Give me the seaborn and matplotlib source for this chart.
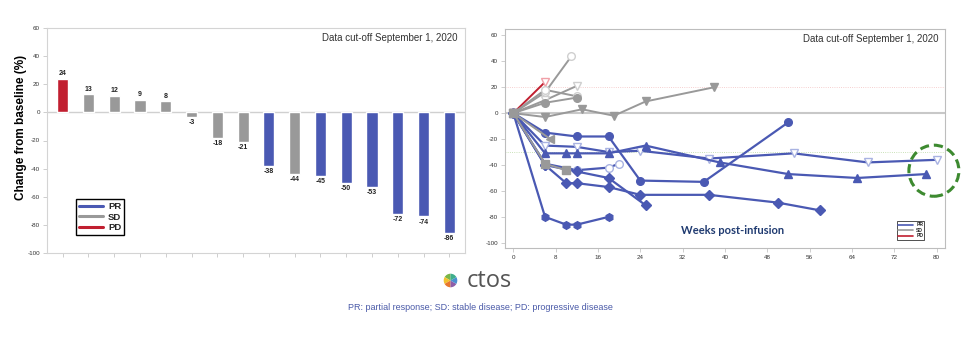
import numpy as np
import pandas as pd
import matplotlib
matplotlib.use("Agg")
import matplotlib.pyplot as plt
import seaborn as sns
from matplotlib.lines import Line2D
from matplotlib.patches import Ellipse

sns.set_style("white")
plt.rcParams['font.family'] = ['Liberation Sans', 'DejaVu Sans']
plt.rcParams['axes.unicode_minus'] = False

# --- waterfall: best % change from baseline ---
best_change = [24, 13, 12, 9, 8, -3, -18, -21, -38, -44, -45, -50, -53, -72, -74, -86]
best_response = ['PD', 'SD', 'SD', 'SD', 'SD', 'SD', 'SD', 'SD',
                 'PR', 'SD', 'PR', 'PR', 'PR', 'PR', 'PR', 'PR']

# --- spider: % change over weeks post-infusion, one list per patient ---
spider_weeks = [
    [0, 6],                                   # PD
    [0, 6, 11],                               # SD
    [0, 6, 12],
    [0, 6, 12],
    [0, 6, 12],
    [0, 6, 13, 19, 25, 38],
    [0, 7],
    [0, 6, 10],
    [0, 6, 12, 18, 24, 36, 52],               # PR
    [0, 6, 12, 18, 24, 37, 53, 67, 80],
    [0, 6, 10, 12, 18, 25, 39, 52, 65, 78],
    [0, 6, 12, 18, 20],
    [0, 6, 10, 12, 18, 24, 37, 50, 58],
    [0, 6, 12, 18, 25],
    [0, 6, 10, 12, 18],
]
spider_values = [
    [0, 24],
    [0, 16, 44],
    [0, 18, 13],
    [0, 10, 21],
    [0, 8, 12],
    [0, -3, 3, -2, 9, 20],
    [0, -20],
    [0, -39, -44],
    [0, -15, -18, -18, -52, -53, -7],
    [0, -25, -26, -30, -29, -35, -31, -38, -36],
    [0, -31, -31, -31, -31, -25, -38, -47, -50, -47],
    [0, -39, -44, -42, -39],
    [0, -40, -54, -54, -57, -63, -63, -69, -75],
    [0, -40, -45, -50, -71],
    [0, -80, -86, -86, -80],
]
spider_response = ['PD', 'SD', 'SD', 'SD', 'SD', 'SD', 'SD', 'SD',
                   'PR', 'PR', 'PR', 'PR', 'PR', 'PR', 'PR']

# styles
spider_marker = ['v', 'o', 'o', 'v', 'o', 'v', '<', 's',
                 'o', 'v', '^', 'o', 'D', 'D', 'h']
spider_open = [True, True, True, True, False, False, False, False,
               False, True, False, True, False, False, False]
response_colors = {'PR': '#4a59b3', 'SD': '#999999', 'PD': '#c11f30'}
open_edge = {'PR': '#a9b3e2', 'SD': '#cfcfcf', 'PD': '#f0a0a8'}

W, H = 971, 353
fig = plt.figure(figsize=(W / 100, H / 100), dpi=100)


def px_axes(x0, y0, x1, y1):
    return fig.add_axes([x0 / W, 1 - y1 / H, (x1 - x0) / W, (y1 - y0) / H])


# ---------------- left: waterfall ----------------
ax1 = px_axes(47, 28, 465, 253)
df = pd.DataFrame({'patient': range(len(best_change)),
                   'change': best_change,
                   'response': best_response})
sns.barplot(data=df, x='patient', y='change', hue='response',
            palette=response_colors, dodge=False, width=0.43,
            legend=False, ax=ax1, saturation=1)
ax1.axhline(0, color='#d0d0d0', lw=1, zorder=0)
for i, v in enumerate(best_change):
    if v >= 0:
        ax1.text(i, v + 1, str(v), ha='center', va='bottom', fontsize=5,
                 fontweight='bold', color='#222')
    else:
        ax1.text(i, v - 1.5, str(v), ha='center', va='top', fontsize=5,
                 fontweight='bold', color='#222')
ax1.set_xlim(-0.61, 15.61)
ax1.set_ylim(-100, 60)
ax1.set_yticks(np.arange(-100, 61, 20))
ax1.set_xticks(range(len(best_change)))
ax1.set_xticklabels([])
ax1.set_xlabel('')
ax1.set_ylabel('')
ax1.tick_params(axis='both', length=3, width=0.5, color='#bbbbbb',
                labelsize=4.5, labelcolor='#333333', pad=2, bottom=True, left=True)
for s in ax1.spines.values():
    s.set_color('#d4d4d4')
    s.set_linewidth(0.8)
ax1.text(0.982, 0.955, 'Data cut-off September 1, 2020', transform=ax1.transAxes,
         ha='right', va='center', fontsize=7, color='#333333')
handles = [Line2D([], [], color=response_colors[k], lw=2.2, label=k) for k in ['PR', 'SD', 'PD']]
leg1 = ax1.legend(handles=handles, loc='lower left', bbox_to_anchor=(0.058, 0.06),
                  handlelength=2.6, handletextpad=0.5, labelspacing=0.15,
                  borderpad=0.3, frameon=True, fancybox=False, framealpha=1,
                  prop={'weight': 'bold', 'size': 6.8})
leg1.get_frame().set_edgecolor('black')
leg1.get_frame().set_linewidth(1)
fig.text(21 / W, 1 - 127 / H, 'Change from baseline (%)', rotation=90,
         ha='center', va='center', fontsize=8.5, fontweight='bold', color='black')

# ---------------- right: spider ----------------
ax2 = px_axes(505, 29, 945, 248)
ax2.axhline(20, color='#f3c0c0', lw=0.6, ls=':', zorder=0)
ax2.axhline(-30, color='#b9d8a2', lw=0.6, ls=':', zorder=0)
ax2.axhline(0, color='#c8c8c8', lw=1.5, zorder=0)
order = list(range(8, 15)) + list(range(0, 8))
for i in order:
    resp = spider_response[i]
    col = response_colors[resp]
    if spider_open[i]:
        mfc, mec = 'white', open_edge[resp]
    else:
        mfc, mec = col, col
    lw = 1.6 if resp == 'PR' else 1.4
    sns.lineplot(x=spider_weeks[i], y=spider_values[i], ax=ax2, color=col,
                 marker=spider_marker[i], markersize=5.5, markerfacecolor=mfc,
                 markeredgecolor=mec, markeredgewidth=1, linewidth=lw,
                 sort=False, estimator=None)
ax2.set_xlim(-1.57, 81.6)
ax2.set_ylim(-104, 64.9)
ax2.set_xticks(np.arange(0, 81, 8))
ax2.set_yticks(np.arange(-100, 61, 20))
ax2.tick_params(axis='both', length=3, width=0.5, color='#bbbbbb',
                labelsize=4.5, labelcolor='#333333', pad=2, bottom=True, left=True)
for s in ax2.spines.values():
    s.set_color('#bdbdbd')
    s.set_linewidth(0.8)
ax2.text(0.985, 0.953, 'Data cut-off September 1, 2020', transform=ax2.transAxes,
         ha='right', va='center', fontsize=7, color='#333333')
ax2.text(41.5, -90.8, 'Weeks post-infusion', ha='center', va='center',
         fontsize=8, fontweight='bold', color='#1f3a70', family=['Lato', 'DejaVu Sans'])
ax2.add_patch(Ellipse((79.5, -44.4), width=9.45, height=39.4, fill=False,
                      ls=(0, (3, 1.6)), lw=2.2, color='#3d8a30', clip_on=False, zorder=5))
handles2 = [Line2D([], [], color=response_colors[k], lw=1.2, label=k) for k in ['PR', 'SD', 'PD']]
leg2 = ax2.legend(handles=handles2, loc='lower right', bbox_to_anchor=(0.959, 0.027),
                  handlelength=3, handletextpad=0.6, labelspacing=0.1, borderpad=0.25,
                  frameon=True, fancybox=False, framealpha=1,
                  prop={'weight': 'bold', 'size': 3.6})
leg2.get_frame().set_edgecolor('#333333')
leg2.get_frame().set_linewidth(0.6)

# ---------------- footer ----------------
logo = px_axes(442, 272, 459, 289)
logo.pie([1, 1, 1, 1, 1, 1], colors=['#7ab648', '#f2c230', '#e8772e', '#8e5ea8', '#4a8fd0', '#3fae8c'],
         startangle=90, wedgeprops={'linewidth': 0})
logo.set_aspect('equal')
logo.axis('off')
fig.text(467 / W, 1 - 281 / H, 'ctos', ha='left', va='center', fontsize=17,
         color='#555555', family=['Open Sans', 'DejaVu Sans'])
fig.text(480 / W, 1 - 308 / H, 'PR: partial response; SD: stable disease; PD: progressive disease',
         ha='center', va='center', fontsize=6.5, color='#4a5aa8')

fig.savefig('out.png', dpi=100)
